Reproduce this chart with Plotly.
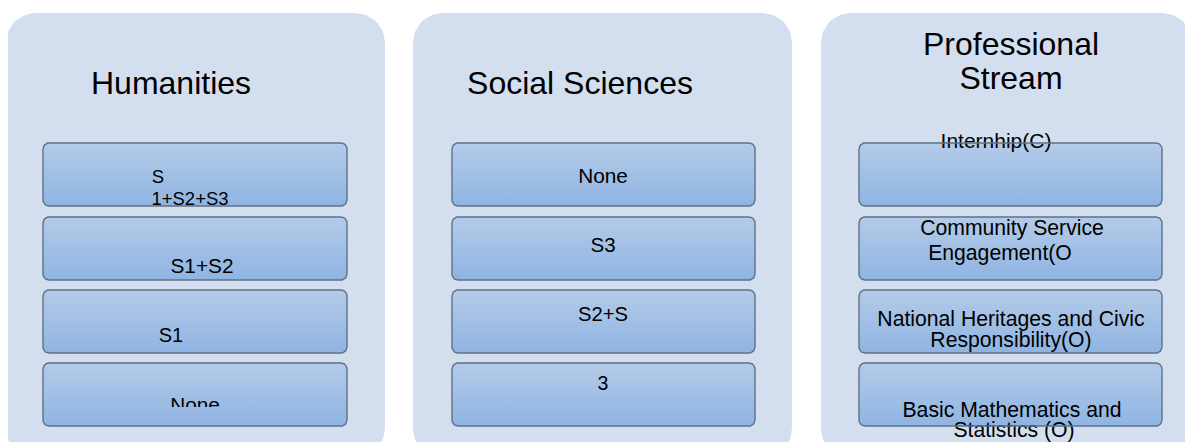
import numpy as np
import plotly.graph_objects as go

W, H = 1193, 442
PAGE_OFFSET = 8  # default body margin of the html page

# ---- content ----
panel_titles = [["Humanities"], ["Social Sciences"], ["Professional", "Stream"]]
humanities_items = [["S", "1+S2+S3"], ["S1+S2"], ["S1"], ["None"]]
social_items = [["None"], ["S3"], ["S2+S"], ["3"]]
professional_items = [["Internhip(C)"],
                      ["Community Service", "Engagement(O"],
                      ["National Heritages and Civic", "Responsibility(O)"],
                      ["Basic Mathematics and", "Statistics (O)"]]
panel_items = [humanities_items, social_items, professional_items]

# ---- layout (pixel coordinates) ----
panel_x = [(6, 385), (413, 792), (821, 1192)]
panel_y = (13, 458)
panel_r = 30
inner_x = [(43, 347), (452, 755), (859, 1162)]
inner_y = [(143, 206), (217, 280), (290, 353), (363, 426)]
inner_r = 6

title_pos = [[(171, 83)], [(580, 83)], [(1011, 44), (1011, 78)]]
title_size = 32
item_pos = [
    [[(158, 177), (190, 199)], [(202, 266)], [(171, 335)], [(195, 405)]],
    [[(603, 176)], [(603, 245)], [(603, 314)], [(603, 383)]],
    [[(996, 140.5)], [(1012, 227.5), (1000, 252.5)], [(1011, 318.5), (1011, 339.5)],
     [(1012, 409.5), (1014, 429.5)]],
]
item_size = [
    [[18.5, 18.5], [20.8], [20], [20.8]],
    [[20.8], [20.5], [20.2], [19.5]],
    [[21], [21.2, 21.2], [21.2, 21.2], [21.2, 21.2]],
]
TEXT_SHIFT = 0.1  # em, from cap-centre to plotly's "middle" anchor

PANEL_BG = "#d3dfee"
BOX_TOP = "#b4cbe9"
BOX_BOT = "#8fb4e2"
BORDER = "#5f7189"
FONT = "Liberation Sans, Arial, sans-serif"


def rounded_rect(x0, x1, y0, y1, r, n=12):
    xs, ys = [], []
    corners = [
        (x1 - r, y0 + r, -np.pi / 2, 0),
        (x1 - r, y1 - r, 0, np.pi / 2),
        (x0 + r, y1 - r, np.pi / 2, np.pi),
        (x0 + r, y0 + r, np.pi, 1.5 * np.pi),
    ]
    for cx, cy, a0, a1 in corners:
        t = np.linspace(a0, a1, n)
        xs.extend(cx + r * np.cos(t))
        ys.extend(cy + r * np.sin(t))
    xs.append(xs[0])
    ys.append(ys[0])
    return xs, ys


fig = go.Figure()

# panels
for (x0, x1) in panel_x:
    xs, ys = rounded_rect(x0, x1, panel_y[0], panel_y[1], panel_r)
    fig.add_trace(go.Scatter(x=xs, y=ys, mode="lines", fill="toself",
                             fillcolor=PANEL_BG, line=dict(width=0),
                             hoverinfo="skip", showlegend=False))

# inner box fills
grad = [[0, BOX_TOP], [1, BOX_BOT]]
for (x0, x1) in inner_x:
    for (y0, y1) in inner_y:
        xs, ys = rounded_rect(x0, x1, y0, y1, inner_r)
        fig.add_trace(go.Scatter(x=xs, y=ys, mode="lines", fill="toself",
                                 fillgradient=dict(type="vertical", colorscale=grad,
                                                   start=y0, stop=y1),
                                 line=dict(width=0), hoverinfo="skip", showlegend=False))


def add_text(txt, x, y, size):
    fig.add_trace(go.Scatter(x=[x], y=[y + TEXT_SHIFT * size], mode="text", text=[txt],
                             textposition="middle center",
                             textfont=dict(family=FONT, size=size, color="black"),
                             hoverinfo="skip", showlegend=False, cliponaxis=False))


# titles
for lines, poss in zip(panel_titles, title_pos):
    for txt, (x, y) in zip(lines, poss):
        add_text(txt, x, y, title_size)

# item labels
for p, items in enumerate(panel_items):
    for i, lines in enumerate(items):
        for j, txt in enumerate(lines):
            x, y = item_pos[p][i][j]
            add_text(txt, x, y, item_size[p][i][j])

# clip of the bottom-left "None" label (text box overflow)
cx0, cx1 = inner_x[0]
cy0, cy1 = inner_y[3]
clip_top = 407
fig.add_trace(go.Scatter(x=[cx0 + 1, cx1 - 1, cx1 - 1, cx0 + 1, cx0 + 1],
                         y=[clip_top, clip_top, cy1 - 1, cy1 - 1, clip_top],
                         mode="lines", fill="toself",
                         fillgradient=dict(type="vertical", colorscale=grad,
                                           start=cy0, stop=cy1),
                         line=dict(width=0), hoverinfo="skip", showlegend=False))

# inner box borders
for (x0, x1) in inner_x:
    for (y0, y1) in inner_y:
        xs, ys = rounded_rect(x0, x1, y0, y1, inner_r)
        fig.add_trace(go.Scatter(x=xs, y=ys, mode="lines",
                                 line=dict(color=BORDER, width=1.4),
                                 hoverinfo="skip", showlegend=False))

fig.update_layout(
    width=W, height=H,
    margin=dict(l=0, r=0, t=0, b=0),
    paper_bgcolor="white", plot_bgcolor="white",
    xaxis=dict(range=[PAGE_OFFSET, W + PAGE_OFFSET], visible=False, fixedrange=True),
    yaxis=dict(range=[H + PAGE_OFFSET, PAGE_OFFSET], visible=False, fixedrange=True),
    showlegend=False,
)

fig.write_html("out.html", config={"displayModeBar": False})
